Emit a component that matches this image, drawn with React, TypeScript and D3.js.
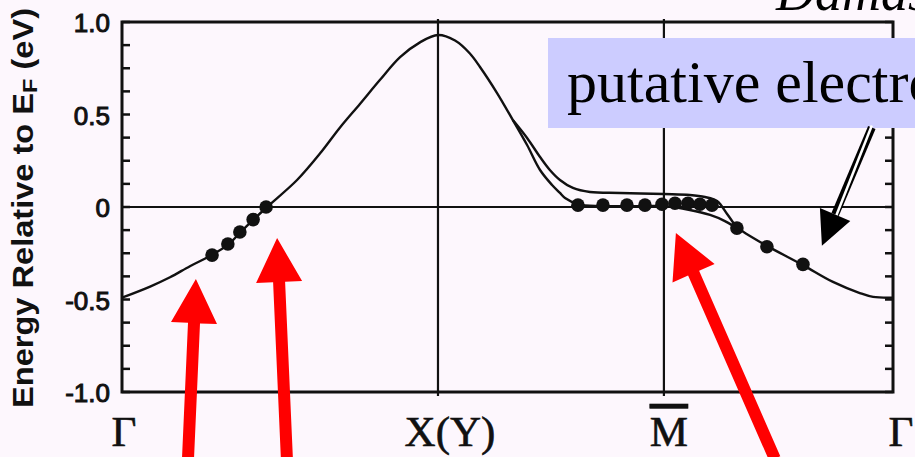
import React, { useEffect } from 'react';
import * as d3 from 'd3';

const WIDTH = 915;
const HEIGHT = 457;

// Symmetry points along the k-path (path length, arbitrary units)
const symmetryLabels = ['Γ', 'X(Y)', 'M', 'Γ'];
const symmetryK = [0, 1, 1.715, 2.44];
const labelShift = [2, 12, 5, 8];

const energyTicks = [1, 0.5, 0, -0.5, -1];
const energyTickLabels = ['1.0', '0.5', '0', '-0.5', '-1.0'];

// Main calculated band Γ → X(Y) → M → Γ
const bandK = [0, 0.089, 0.152, 0.215, 0.278, 0.335, 0.373, 0.415, 0.459, 0.554, 0.627, 0.69, 0.753, 0.816, 0.88, 0.943, 1.0, 1.054, 1.101, 1.133, 1.187, 1.237, 1.282, 1.323, 1.361, 1.386, 1.402, 1.443, 1.513, 1.639, 1.715, 1.797, 1.861, 1.908, 1.946, 2.041, 2.155, 2.25, 2.335, 2.377, 2.44];
const bandE = [-0.49, -0.43, -0.38, -0.32, -0.265, -0.205, -0.14, -0.07, 0.0, 0.146, 0.29, 0.43, 0.557, 0.686, 0.81, 0.89, 0.93, 0.9, 0.83, 0.757, 0.616, 0.47, 0.335, 0.2, 0.119, 0.076, 0.049, 0.016, 0.005, 0.005, 0.005, -0.016, -0.043, -0.076, -0.114, -0.21, -0.314, -0.405, -0.465, -0.486, -0.49];

// Second branch splitting off between X(Y) and M
const splitK = [1.237, 1.282, 1.323, 1.354, 1.386, 1.427, 1.481, 1.576, 1.715, 1.797, 1.845, 1.883, 1.915, 1.946];
const splitE = [0.47, 0.373, 0.27, 0.2, 0.146, 0.103, 0.081, 0.076, 0.07, 0.065, 0.054, 0.032, -0.038, -0.114];

// Measured dispersion points
const dataK = [0.285, 0.335, 0.373, 0.415, 0.456, 1.443, 1.522, 1.598, 1.655, 1.709, 1.75, 1.791, 1.829, 1.867, 1.946, 2.041, 2.155];
const dataE = [-0.26, -0.2, -0.135, -0.068, 0.0, 0.01, 0.01, 0.01, 0.01, 0.015, 0.02, 0.02, 0.015, 0.01, -0.114, -0.215, -0.31];

// Red pointer arrows: tip and tail in (k, E)
const redTipK = [0.234, 0.491, 1.753];
const redTipE = [-0.39, -0.168, -0.14];
const redTailK = [0.209, 0.522, 2.066];
const redTailE = [-1.36, -1.36, -1.36];

// Double-shafted pointer from the caption box
const pointerTip = [2.215, -0.21];
const pointerTail = [2.373, 0.43];

const BG = '#fdf7fd';
const INK = '#111';

function arrowPath(x0: number, y0: number, x1: number, y1: number, shaftW: number, headW: number, headL: number) {
  const dx = x1 - x0, dy = y1 - y0;
  const len = Math.hypot(dx, dy);
  const ux = dx / len, uy = dy / len;
  const nx = -uy, ny = ux;
  const bx = x1 - ux * headL, by = y1 - uy * headL;
  const pts = [
    [x0 + nx * shaftW / 2, y0 + ny * shaftW / 2],
    [bx + nx * shaftW / 2, by + ny * shaftW / 2],
    [bx + nx * headW / 2, by + ny * headW / 2],
    [x1, y1],
    [bx - nx * headW / 2, by - ny * headW / 2],
    [bx - nx * shaftW / 2, by - ny * shaftW / 2],
    [x0 - nx * shaftW / 2, y0 - ny * shaftW / 2],
  ];
  return 'M' + pts.map((p) => p[0].toFixed(1) + ',' + p[1].toFixed(1)).join('L') + 'Z';
}

export default function App() {
  useEffect(() => {
    document.body.style.margin = '0';
    document.body.style.background = BG;
  }, []);

  const x = d3.scaleLinear().domain([0, 2.44]).range([122, 893]);
  const y = d3.scaleLinear().domain([-1, 1]).range([392, 22]);
  const [x0, x1] = x.range();
  const [yb, yt] = y.range();

  const line = d3
    .line<[number, number]>()
    .x((d) => x(d[0]))
    .y((d) => y(d[1]))
    .curve(d3.curveCatmullRom.alpha(0.5));

  const band = bandK.map((k, i) => [k, bandE[i]] as [number, number]);
  const split = splitK.map((k, i) => [k, splitE[i]] as [number, number]);
  const minorTicks = d3.range(-1, 1.0001, 0.125);

  // pointer geometry
  const px1 = x(pointerTip[0]), py1 = y(pointerTip[1]);
  const px0 = x(pointerTail[0]), py0 = y(pointerTail[1]);
  const plen = Math.hypot(px1 - px0, py1 - py0);
  const headL = 34;
  const pbx = px1 - ((px1 - px0) / plen) * headL;
  const pby = py1 - ((py1 - py0) / plen) * headL;

  return (
    <svg width={WIDTH} height={HEIGHT} style={{ display: 'block', background: BG }}>
      <rect x={0} y={0} width={WIDTH} height={HEIGHT} fill={BG} />

      {/* symmetry-point verticals and Fermi level */}
      {symmetryK.slice(1, 3).map((k, i) => (
        <line key={'v' + i} x1={x(k)} x2={x(k)} y1={yt - 3} y2={yb + 4} stroke={INK} strokeWidth={2.2} />
      ))}
      <line x1={x0} x2={x1} y1={y(0)} y2={y(0)} stroke={INK} strokeWidth={2.2} />

      {/* frame ticks */}
      {minorTicks.map((t, i) => (
        <g key={'t' + i}>
          <line x1={x0} x2={x0 + 8} y1={y(t)} y2={y(t)} stroke={INK} strokeWidth={2.5} />
          <line x1={x1 - 8} x2={x1} y1={y(t)} y2={y(t)} stroke={INK} strokeWidth={2.5} />
        </g>
      ))}
      <rect x={x0} y={yt} width={x1 - x0} height={yb - yt} fill="none" stroke={INK} strokeWidth={3} />

      {/* bands */}
      <path d={line(band) || ''} fill="none" stroke={INK} strokeWidth={2.4} />
      <path d={line(split) || ''} fill="none" stroke={INK} strokeWidth={2.4} />

      {/* data points */}
      {dataK.map((k, i) => (
        <circle key={'d' + i} cx={x(k)} cy={y(dataE[i])} r={6.8} fill={INK} />
      ))}

      {/* energy axis labels */}
      {energyTicks.map((t, i) => (
        <text
          key={'yl' + i}
          x={110}
          y={y(t) + 10}
          textAnchor="end"
          fontFamily="'Liberation Sans', Arial, sans-serif"
          fontSize={26}
          fill={INK}
          stroke={INK}
          strokeWidth={1}
        >
          {energyTickLabels[i]}
        </text>
      ))}
      <text
        transform="translate(33,208) rotate(-90)"
        textAnchor="middle"
        fontFamily="'Liberation Sans', Arial, sans-serif"
        fontWeight={700}
        fontSize={29}
        fill={INK}
        textLength={400}
        lengthAdjust="spacingAndGlyphs"
      >
        Energy Relative to E<tspan fontSize={21} dy={4}>F</tspan>
        <tspan dy={-4}> (eV)</tspan>
      </text>

      {/* symmetry point labels */}
      {symmetryLabels.map((s, i) => (
        <text
          key={'s' + i}
          x={x(symmetryK[i]) + labelShift[i]}
          y={446}
          textAnchor="middle"
          fontFamily="'Liberation Serif', 'Times New Roman', serif"
          fontSize={43}
          fill={INK}
          stroke={INK}
          strokeWidth={0.6}
          style={s === 'M' ? { textDecoration: 'overline' } : undefined}
        >
          {s}
        </text>
      ))}

      {/* caption box */}
      <rect x={548} y={38} width={WIDTH - 548} height={90} fill="#ccccff" />
      <text x={567} y={102} fontFamily="'Liberation Serif', 'Times New Roman', serif" fontSize={60} fill="#000">
        putative electron
      </text>
      <text x={776} y={10} fontFamily="'Liberation Serif', 'Times New Roman', serif" fontStyle="italic" fontSize={54} fill="#000">
        Damascelli
      </text>

      {/* double-shafted pointer */}
      <line x1={px0} y1={py0} x2={pbx} y2={pby} stroke="#000" strokeWidth={8} />
      <line x1={px0} y1={py0 - 2} x2={pbx} y2={pby + 4} stroke="#fff" strokeWidth={2.5} />
      <path d={arrowPath(px0, py0, px1, py1, 0, 33, headL)} fill="#000" />

      {/* red pointers */}
      {redTipK.map((k, i) => (
        <path
          key={'r' + i}
          d={arrowPath(x(redTailK[i]), y(redTailE[i]), x(k), y(redTipE[i]), 12, 46, 44)}
          fill="#ff0000"
        />
      ))}
    </svg>
  );
}
